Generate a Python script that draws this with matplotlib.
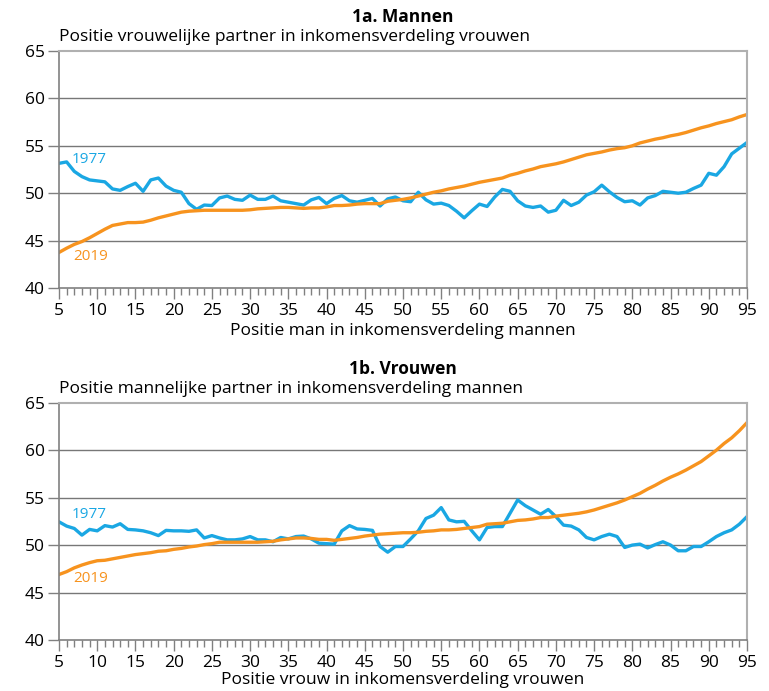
import numpy as np
import matplotlib.pyplot as plt

plt.rcParams['font.family'] = ['Open Sans', 'DejaVu Sans']

positie = list(range(5, 96))

# 1a. Mannen
mannen_1977 = [53.15, 53.3, 52.3, 51.75, 51.4, 51.3, 51.2, 50.45, 50.3, 50.7,
               51.05, 50.2, 51.4, 51.6, 50.75, 50.3, 50.1, 48.9, 48.3, 48.75,
               48.7, 49.5, 49.7, 49.35, 49.25, 49.8, 49.35, 49.35, 49.7, 49.2,
               49.05, 48.9, 48.75, 49.3, 49.55, 48.9, 49.45, 49.75, 49.2, 49.05,
               49.25, 49.45, 48.65, 49.4, 49.6, 49.2, 49.1, 50.1, 49.3, 48.85,
               48.95, 48.7, 48.1, 47.4, 48.15, 48.85, 48.6, 49.6, 50.4, 50.2,
               49.2, 48.65, 48.5, 48.65, 48.0, 48.2, 49.25, 48.7, 49.05, 49.8,
               50.15, 50.85, 50.15, 49.55, 49.1, 49.2, 48.75, 49.5, 49.75, 50.2,
               50.1, 50.0, 50.1, 50.5, 50.85, 52.1, 51.9, 52.8, 54.15, 54.75,
               55.35]
mannen_2019 = [43.75, 44.2, 44.6, 44.9, 45.3, 45.75, 46.2, 46.6, 46.75, 46.9,
               46.9, 46.95, 47.15, 47.4, 47.6, 47.8, 48.0, 48.1, 48.15, 48.2,
               48.2, 48.2, 48.2, 48.2, 48.2, 48.25, 48.35, 48.4, 48.45, 48.5,
               48.5, 48.45, 48.4, 48.45, 48.45, 48.55, 48.7, 48.7, 48.75, 48.85,
               48.9, 48.9, 48.9, 49.15, 49.25, 49.35, 49.5, 49.7, 49.9, 50.1,
               50.25, 50.45, 50.6, 50.75, 50.95, 51.15, 51.3, 51.45, 51.6, 51.9,
               52.1, 52.35, 52.55, 52.8, 52.95, 53.1, 53.3, 53.55, 53.8, 54.05,
               54.2, 54.35, 54.55, 54.7, 54.8, 55.0, 55.3, 55.5, 55.7, 55.85,
               56.05, 56.2, 56.4, 56.65, 56.9, 57.1, 57.35, 57.55, 57.75, 58.05,
               58.3]

# 1b. Vrouwen
vrouwen_1977 = [52.45, 52.0, 51.75, 51.05, 51.65, 51.5, 52.05, 51.9, 52.25, 51.65,
                51.6, 51.5, 51.3, 51.0, 51.55, 51.5, 51.5, 51.45, 51.6, 50.75,
                51.0, 50.75, 50.55, 50.55, 50.65, 50.9, 50.55, 50.55, 50.35, 50.8,
                50.65, 50.9, 50.95, 50.65, 50.2, 50.15, 50.1, 51.5, 52.05, 51.7,
                51.65, 51.55, 49.85, 49.25, 49.85, 49.85, 50.65, 51.5, 52.8, 53.15,
                53.95, 52.65, 52.45, 52.5, 51.5, 50.55, 51.85, 51.95, 51.95, 53.35,
                54.75, 54.15, 53.7, 53.25, 53.75, 53.0, 52.1, 52.0, 51.6, 50.8,
                50.55, 50.9, 51.15, 50.9, 49.75, 50.0, 50.1, 49.7, 50.05, 50.35,
                50.0, 49.4, 49.4, 49.85, 49.85, 50.35, 50.9, 51.3, 51.6, 52.2,
                53.0]
vrouwen_2019 = [46.9, 47.2, 47.6, 47.9, 48.15, 48.35, 48.4, 48.55, 48.7, 48.85,
                49.0, 49.1, 49.2, 49.35, 49.4, 49.55, 49.65, 49.8, 49.9, 50.05,
                50.15, 50.3, 50.3, 50.3, 50.3, 50.3, 50.3, 50.35, 50.4, 50.55,
                50.65, 50.75, 50.75, 50.7, 50.6, 50.6, 50.5, 50.6, 50.7, 50.8,
                50.95, 51.05, 51.15, 51.2, 51.25, 51.3, 51.3, 51.35, 51.45, 51.5,
                51.6, 51.6, 51.65, 51.75, 51.85, 51.95, 52.2, 52.25, 52.3, 52.45,
                52.6, 52.65, 52.75, 52.9, 52.9, 53.05, 53.15, 53.25, 53.35, 53.5,
                53.7, 53.95, 54.2, 54.45, 54.75, 55.1, 55.45, 55.9, 56.3, 56.75,
                57.15, 57.5, 57.9, 58.35, 58.8, 59.4, 60.0, 60.7, 61.3, 62.05,
                62.9]

blauw = '#1aa7e3'
oranje = '#f7931e'

W, H = 769, 691
fig = plt.figure(figsize=(W / 100, H / 100), dpi=100)


def paneel(top, bottom, titel, subtitel, xlabel, d1977, d2019, y1977, y2019, lpad):
    ax = fig.add_axes([59 / W, 1 - bottom / H, (747 - 59) / W, (bottom - top) / H])
    ax.plot(positie, d1977, color=blauw, lw=2.4)
    ax.plot(positie, d2019, color=oranje, lw=2.4)
    ax.set_xlim(5, 95)
    ax.set_ylim(40, 65)
    ax.set_xticks(range(5, 96, 5))
    ax.set_xticks(range(5, 96), minor=True)
    ax.set_yticks(range(40, 66, 5))
    for y in range(45, 65, 5):
        ax.axhline(y, color='#777777', lw=1, zorder=0)
    for s in ['top', 'right']:
        ax.spines[s].set_color('#b0b0b0')
        ax.spines[s].set_linewidth(1.5)
    for s in ['left', 'bottom']:
        ax.spines[s].set_color('#808080')
        ax.spines[s].set_linewidth(1.2)
    ax.tick_params(axis='x', which='major', direction='out', length=8, width=1,
                   color='#808080', labelsize=12.5, pad=3)
    ax.tick_params(axis='x', which='minor', direction='out', length=5, width=1,
                   color='#808080')
    ax.tick_params(axis='y', direction='out', length=8, width=1, color='#808080',
                   labelsize=12.5, pad=2)
    ax.set_xlabel(xlabel, fontsize=12.5, labelpad=lpad)
    ax.text(0.5, 1 + 34 / (bottom - top), titel, transform=ax.transAxes,
            ha='center', va='center', fontsize=12.5, fontweight='bold')
    ax.text(0.0, 1 + 14 / (bottom - top), subtitel, transform=ax.transAxes,
            ha='left', va='center', fontsize=12.5)
    ax.text(9.0, y1977, '1977', color=blauw, fontsize=11, ha='center', va='center')
    ax.text(9.2, y2019, '2019', color=oranje, fontsize=11, ha='center', va='center')
    return ax


paneel(51, 288, '1a. Mannen',
       'Positie vrouwelijke partner in inkomensverdeling vrouwen',
       'Positie man in inkomensverdeling mannen',
       mannen_1977, mannen_2019, 53.6, 43.3, 3)
paneel(402.7, 640, '1b. Vrouwen',
       'Positie mannelijke partner in inkomensverdeling mannen',
       'Positie vrouw in inkomensverdeling vrouwen',
       vrouwen_1977, vrouwen_2019, 53.2, 46.5, 0.5)

fig.savefig('out.png', dpi=100)
